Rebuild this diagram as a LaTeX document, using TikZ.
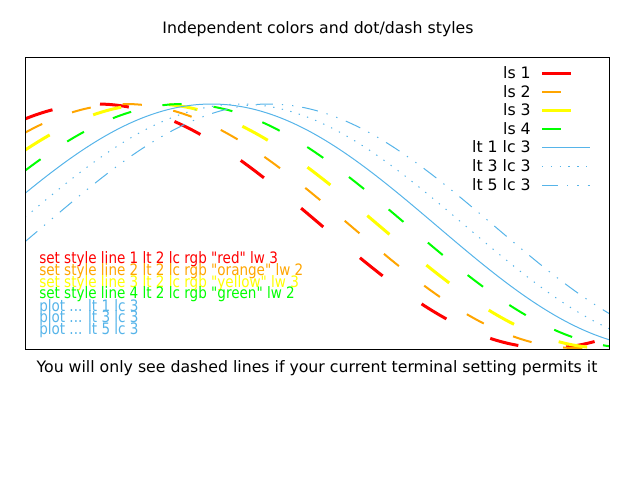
\documentclass[tikz,border=0pt]{standalone}
\usepackage{fontspec}
\newfontfamily\gpfont{DejaVu Sans}
\definecolor{lcthree}{HTML}{56B4E9}
\definecolor{gpred}{HTML}{FF0000}
\definecolor{gporange}{HTML}{FFA500}
\definecolor{gpyellow}{HTML}{FFFF00}
\definecolor{gpgreen}{HTML}{00FF00}
\tikzset{
  lsA/.style={gpred,line width=2.25pt,dash pattern=on 21.75pt off 36pt},
  lsB/.style={gporange,line width=1.5pt,dash pattern=on 14.5pt off 24pt},
  lsC/.style={gpyellow,line width=2.25pt,dash pattern=on 21.75pt off 36pt},
  lsD/.style={gpgreen,line width=1.5pt,dash pattern=on 14.5pt off 24pt},
  ltA/.style={lcthree,line width=0.75pt},
  ltC/.style={lcthree,line width=0.75pt,dash pattern=on 1pt off 5.6pt},
  ltE/.style={lcthree,line width=0.75pt,dash pattern=on 12pt off 6.75pt on 1pt off 6.75pt on 1pt off 6.75pt},
  gptext/.style={font=\gpfont\fontsize{11.8}{14}\selectfont,inner sep=0pt}
}
\newcommand{\cosplot}[2]{\draw[#1] plot[domain=25:609,samples=160,smooth] (\x,{226-122*cos(((\x-25)/143.5-#2) r)});}
\newcommand{\narrow}[1]{\scalebox{0.86}[1]{#1}}
\begin{document}
\begin{tikzpicture}[x=0.75pt,y=-0.75pt]
  \useasboundingbox (0,0) rectangle (640,480);

  \node[gptext] (title) at (318,29) {Independent colors and dot/dash styles};
  \node[gptext] (note) at (317,368) {You will only see dashed lines if your current terminal setting permits it};

  \begin{scope}
    \clip (25,57) rectangle (609,349);
    \cosplot{lsA}{0.5}
    \cosplot{lsB}{0.7}
    \cosplot{lsC}{0.9}
    \cosplot{lsD}{1.1}
    \cosplot{ltA}{1.3}
    \cosplot{ltC}{1.5}
    \cosplot{ltE}{1.7}
  \end{scope}

  \draw[line width=0.75pt] (25,57) rectangle (609,349);

  \begin{scope}[every node/.style={gptext,anchor=east}]
    \node (ls1) at (531,73)  {ls 1};
    \node (ls2) at (531,92)  {ls 2};
    \node (ls3) at (531,110) {ls 3};
    \node (ls4) at (531,129) {ls 4};
    \node (lt1) at (531,147) {lt 1 lc 3};
    \node (lt3) at (531,166) {lt 3 lc 3};
    \node (lt5) at (531,185) {lt 5 lc 3};
  \end{scope}

  \draw[lsA] (542,73)  -- (590,73);
  \draw[lsB] (542,92)  -- (590,92);
  \draw[lsC] (542,110) -- (590,110);
  \draw[lsD] (542,129) -- (590,129);
  \draw[ltA] (542,147) -- (590,147);
  \draw[ltC] (542,166) -- (590,166);
  \draw[ltE] (542,185) -- (590,185);

  \begin{scope}[every node/.style={gptext,anchor=west}]
    \node[gpred]    (set1) at (39,259) {\narrow{set style line 1 lt 2 lc rgb "red" lw 3}};
    \node[gporange] (set2) at (39,271) {\narrow{set style line 2 lt 2 lc rgb "orange" lw 2}};
    \node[gpyellow] (set3) at (39,283) {\narrow{set style line 3 lt 2 lc rgb "yellow" lw 3}};
    \node[gpgreen]  (set4) at (39,294) {\narrow{set style line 4 lt 2 lc rgb "green" lw 2}};
    \node[lcthree]  (plt1) at (39,307) {\narrow{plot ... lt 1 lc 3}};
    \node[lcthree]  (plt3) at (39,318) {\narrow{plot ... lt 3 lc 3}};
    \node[lcthree]  (plt5) at (39,330) {\narrow{plot ... lt 5 lc 3}};
  \end{scope}

\end{tikzpicture}
\end{document}
